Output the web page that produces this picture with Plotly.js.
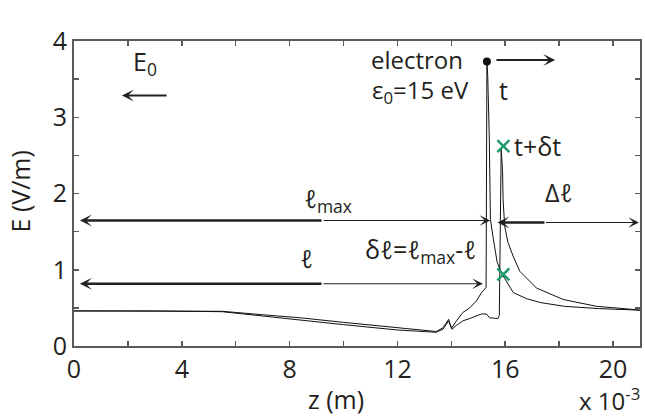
<!DOCTYPE html>
<html>
<head>
<meta charset="utf-8">
<script src="https://cdn.plot.ly/plotly-3.0.1.min.js"></script>
<style>html,body{margin:0;padding:0;background:#fff;}#plot{width:645px;height:419px;}</style>
</head>
<body>
<div id="plot"></div>
<script>
// z in units of 1e-3 m, E in units of 1e7 V/m
const zT = [0, 3, 5.5, 7, 8.4, 10, 12, 13, 13.44, 13.69, 13.9, 13.96, 14.02, 14.19, 14.43, 14.68, 14.93, 15.12, 15.24, 15.29, 15.32, 15.35, 15.41, 15.45, 15.56, 15.7, 15.87, 16.3, 16.8, 17.3, 18.2, 19.5, 21];
const eT = [0.46, 0.46, 0.455, 0.41, 0.37, 0.31, 0.24, 0.205, 0.19, 0.24, 0.35, 0.28, 0.24, 0.33, 0.44, 0.50, 0.59, 0.70, 0.75, 0.77, 3.73, 3.55, 2.7, 1.66, 1.40, 1.10, 0.95, 0.70, 0.62, 0.57, 0.52, 0.49, 0.47];

const zTdt = [0, 3, 5.5, 7, 8.4, 10, 12, 13, 13.44, 13.69, 13.9, 13.96, 14.02, 14.19, 14.43, 14.68, 14.93, 15.12, 15.30, 15.42, 15.73, 15.78, 15.85, 15.9, 15.92, 15.98, 16.1, 16.29, 16.54, 17.16, 18.15, 19.39, 20.74, 21];
const eTdt = [0.46, 0.46, 0.45, 0.39, 0.34, 0.28, 0.21, 0.19, 0.18, 0.22, 0.33, 0.27, 0.22, 0.27, 0.33, 0.36, 0.40, 0.42, 0.42, 0.37, 0.36, 0.40, 2.58, 2.3, 1.92, 1.57, 1.36, 1.18, 0.98, 0.76, 0.61, 0.52, 0.48, 0.47];

// electron position at t (dot) and at t+dt (crosses)
const electronZ = [15.32];
const electronE = [3.73];
const crossZ = [15.93, 15.93];
const crossE = [2.62, 0.94];

const xTickVals = [0, 4, 8, 12, 16, 20];
const yTickVals = [0, 1, 2, 3, 4];

const FONT = 'Open Sans, Noto Sans, DejaVu Sans, sans-serif';
const TXT = '#231f20';
const AX = '#5a5a5a';
const FS = 25;

const traces = [
  {x: zT, y: eT, mode: 'lines', line: {color: '#111', width: 1}, name: 't', hoverinfo: 'skip'},
  {x: zTdt, y: eTdt, mode: 'lines', line: {color: '#111', width: 1}, name: 't+δt', hoverinfo: 'skip'},
  {x: electronZ, y: electronE, mode: 'markers', marker: {color: '#111', size: 8}, name: 'electron', cliponaxis: false},
  {x: crossZ, y: crossE, mode: 'markers', marker: {symbol: 'x-thin', color: '#1f9a6b', size: 12, line: {color: '#1f9a6b', width: 2.5}}, name: 'x'}
];

function arrow(xHead, yHead, xTail, yTail, w, size) {
  return {x: xHead, y: yHead, ax: xTail, ay: yTail, xref: 'x', yref: 'y', axref: 'x', ayref: 'y',
    text: '', showarrow: true, arrowhead: 3, arrowsize: size, arrowwidth: w, arrowcolor: '#222', standoff: 0, startstandoff: 0};
}
function label(text, x, y, xanchor, yanchor, extra) {
  return Object.assign({x: x, y: y, xref: 'x', yref: 'y', text: text, showarrow: false, xanchor: xanchor, yanchor: yanchor,
    font: {family: FONT, size: FS, color: TXT}}, extra || {});
}

const annotations = [
  label('x 10<sup>7</sup>', 0, 4.26, 'left', 'middle'),
  label('E<sub>0</sub>', 2.1, 3.72, 'left', 'middle'),
  arrow(1.78, 3.285, 3.49, 3.285, 2, 1),
  label('electron', 14.5, 3.76, 'right', 'middle', {font: {family: FONT, size: 24, color: TXT}}),
  label('ε<sub>0</sub>=15 eV', 14.72, 3.35, 'right', 'middle', {font: {family: FONT, size: 24, color: TXT}}),
  arrow(17.85, 3.75, 15.62, 3.75, 2, 1),
  label('t', 15.68, 3.36, 'left', 'middle'),
  label('t+δt', 16.25, 2.62, 'left', 'middle'),
  label('Δℓ', 17.96, 2.02, 'center', 'middle'),
  // l_max arrow
  arrow(0.22, 1.646, 9.24, 1.646, 2.5, 0.8),
  arrow(15.44, 1.646, 9.2, 1.646, 1.1, 1.6),
  label('ℓ<sub>max</sub>', 8.45, 1.92, 'left', 'middle'),
  // l arrow
  arrow(0.22, 0.816, 9.24, 0.816, 2.5, 0.8),
  arrow(15.17, 0.816, 9.2, 0.816, 1.1, 1.6),
  label('ℓ', 8.62, 1.15, 'center', 'middle'),
  label('δℓ=ℓ<sub>max</sub>-ℓ', 15.0, 1.25, 'right', 'middle'),
  // delta l arrow
  arrow(15.71, 1.62, 17.51, 1.62, 2.5, 0.8),
  arrow(20.96, 1.62, 17.45, 1.62, 1.1, 1.6),
  // axis titles & multipliers
  {x: 0.463, y: -0.175, xref: 'paper', yref: 'paper', text: 'z (m)', showarrow: false, xanchor: 'center', yanchor: 'middle', font: {family: FONT, size: FS, color: TXT}},
  {x: -0.0954, y: 0.5066, xref: 'paper', yref: 'paper', text: 'E (V/m)', textangle: -90, showarrow: false, xanchor: 'center', yanchor: 'middle', font: {family: FONT, size: FS, color: TXT}},
  {x: 0.889, y: -0.2385, xref: 'paper', yref: 'paper', text: 'x 10<sup>-3</sup>', showarrow: false, xanchor: 'left', yanchor: 'bottom', font: {family: FONT, size: 24, color: TXT}}
];

const layout = {
  width: 645, height: 419,
  margin: {l: 74, r: 5, t: 41, b: 73},
  paper_bgcolor: '#fff', plot_bgcolor: '#fff',
  showlegend: false,
  font: {family: FONT, size: FS, color: TXT},
  xaxis: {
    range: [0, 21], showgrid: false, zeroline: false,
    showline: true, mirror: 'ticks', linecolor: AX, linewidth: 2,
    ticks: 'inside', ticklen: 5, tickwidth: 1.5, tickcolor: AX,
    tickvals: xTickVals, ticktext: xTickVals.map(String),
    minor: {dtick: 2, ticks: 'inside', ticklen: 5, tickwidth: 1.5, tickcolor: AX, showgrid: false},
    tickfont: {family: FONT, size: FS, color: TXT},
    title: {text: ''}
  },
  yaxis: {
    range: [0, 4], showgrid: false, zeroline: false,
    showline: true, mirror: 'ticks', linecolor: AX, linewidth: 2,
    ticks: 'inside', ticklen: 5, tickwidth: 1.5, tickcolor: AX,
    tickvals: yTickVals, ticktext: yTickVals.map(String),
    minor: {dtick: 0.5, ticks: 'inside', ticklen: 5, tickwidth: 1.5, tickcolor: AX, showgrid: false},
    tickfont: {family: FONT, size: FS, color: TXT},
    title: {text: ''}
  },
  annotations: annotations
};

Plotly.newPlot('plot', traces, layout, {staticPlot: true, displayModeBar: false});
</script>
</body>
</html>
